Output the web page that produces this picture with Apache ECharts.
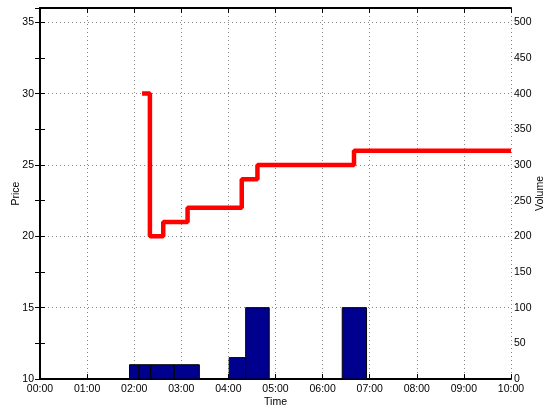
<!DOCTYPE html>
<html>
<head>
<meta charset="utf-8">
<script src="https://cdn.jsdelivr.net/npm/echarts@6/dist/echarts.min.js"></script>
<style>html,body{margin:0;padding:0;background:#fff}#c{width:547px;height:409px}</style>
</head>
<body>
<div id="c"></div>
<script>
// Time in minutes since 00:00
const priceTimes = [130, 140, 157, 188, 257, 277, 400, 600];
const priceValues = [30, 20, 21, 22, 24, 25, 26, 26];
const barStarts = [114, 126, 141, 171, 241, 262, 385];
const barEnds = [126, 141, 171, 203, 262, 292, 416];
const barVolumes = [20, 20, 20, 20, 30, 100, 100];
const xTickLabels = ['00:00','01:00','02:00','03:00','04:00','05:00','06:00','07:00','08:00','09:00','10:00'];

const FONT = 'Liberation Sans';
const chart = echarts.init(document.getElementById('c'));
const priceData = priceTimes.map((t, i) => [t, priceValues[i]]);
const barData = barStarts.map((s, i) => [s, barEnds[i], barVolumes[i]]);
const grid = {left: 40, right: 36, top: 8, bottom: 30, containLabel: false, outerBoundsMode: 'none'};
const labelStyle = {color: '#000', fontFamily: FONT, fontSize: 10.5};
const lineStyle = {color: '#000', width: 2};
const dotted = {show: true, lineStyle: {color: '#888', type: [1, 3], width: 1}};
const nameStyle = {color: '#000', fontFamily: FONT, fontSize: 10.5};

chart.setOption({
  animation: false,
  grid: grid,
  xAxis: [{
    type: 'value', min: 0, max: 600, interval: 60, position: 'bottom',
    name: 'Time', nameLocation: 'middle', nameGap: 18, nameMoveOverlap: false,
    nameTextStyle: nameStyle,
    axisLine: {show: true, lineStyle: lineStyle},
    axisTick: {show: true, inside: true, length: 5, lineStyle: {color: '#000'}},
    axisLabel: Object.assign({margin: 5, formatter: v => xTickLabels[Math.round(v / 60)] || ''}, labelStyle),
    splitLine: dotted
  }, {
    type: 'value', min: 0, max: 600, interval: 60, position: 'top',
    axisLine: {show: true, lineStyle: lineStyle},
    axisTick: {show: true, inside: true, length: 5, lineStyle: {color: '#000'}},
    axisLabel: {show: false}, splitLine: {show: false}
  }],
  yAxis: [{
    type: 'value', min: 10, max: 36, interval: 2.5, position: 'left',
    name: 'Price', nameLocation: 'middle', nameGap: 18, nameMoveOverlap: false,
    nameTextStyle: nameStyle,
    axisLine: {show: true, lineStyle: lineStyle},
    axisTick: {show: true, inside: true, length: 5, lineStyle: {color: '#000'}},
    axisLabel: Object.assign({margin: 6, formatter: v => (v % 5 === 0 ? String(v) : '')}, labelStyle),
    splitLine: {show: false}
  }, {
    type: 'value', min: 0, max: 520, interval: 50, position: 'right',
    name: 'Volume', nameLocation: 'middle', nameGap: 24, nameMoveOverlap: false,
    nameTextStyle: nameStyle,
    axisLine: {show: true, lineStyle: lineStyle},
    axisTick: {show: true, inside: true, length: 5, lineStyle: {color: '#000'}},
    axisLabel: Object.assign({margin: 3, formatter: v => (v % 50 === 0 ? String(v) : '')}, labelStyle),
    splitLine: {show: false}
  }, {
    type: 'value', min: 10, max: 36, interval: 5, position: 'left', show: true,
    axisLine: {show: false}, axisTick: {show: false}, axisLabel: {show: false},
    splitLine: dotted
  }],
  series: [{
    type: 'custom', xAxisIndex: 0, yAxisIndex: 1, z: 2,
    encode: {x: [0, 1], y: 2},
    data: barData,
    renderItem: function (params, api) {
      const p0 = api.coord([api.value(0), 0]);
      const p1 = api.coord([api.value(1), api.value(2)]);
      return {
        type: 'rect',
        shape: {x: p0[0], y: p1[1], width: p1[0] - p0[0], height: p0[1] - p1[1]},
        style: {fill: '#00008f', stroke: '#000', lineWidth: 1}
      };
    }
  }, {
    type: 'line', xAxisIndex: 0, yAxisIndex: 0, z: 3,
    step: 'end', symbol: 'none',
    data: priceData,
    lineStyle: {color: '#ff0000', width: 4.5}
  }]
});
</script>
</body>
</html>
